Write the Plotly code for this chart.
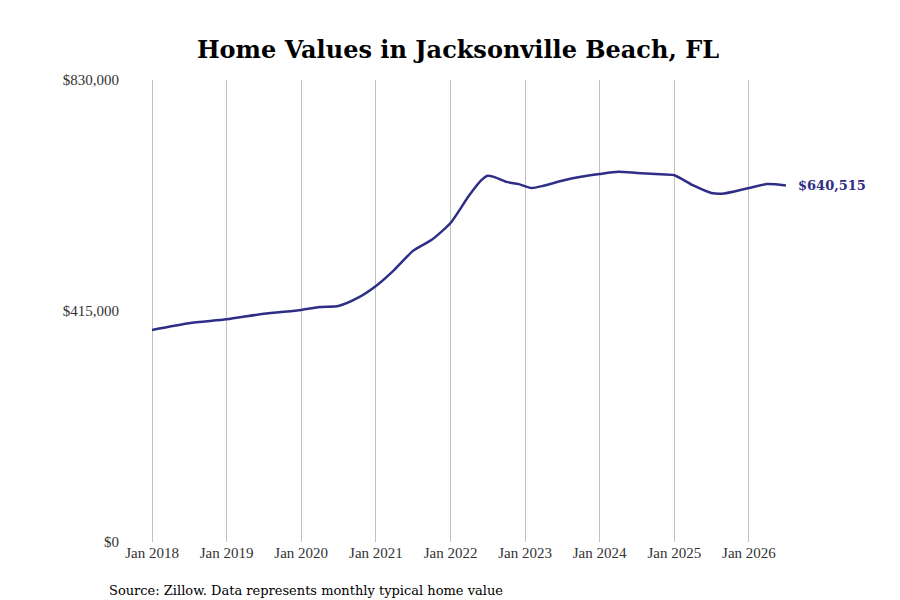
import plotly.graph_objects as go

dates = ["2018-01-01","2018-07-01","2019-01-01","2019-07-01","2020-01-01","2020-04-01","2020-07-01","2020-10-01",
         "2021-01-01","2021-04-01","2021-07-01","2021-10-01","2022-01-01","2022-04-01","2022-06-01","2022-07-01",
         "2022-08-01","2022-10-01","2022-12-01","2023-02-01","2023-04-01","2023-07-01","2023-10-01","2024-01-01",
         "2024-04-01","2024-07-01","2024-10-01","2025-01-01","2025-04-01","2025-07-01","2025-09-01","2026-01-01",
         "2026-04-01","2026-07-01"]
values = [381000,393000,400000,410000,417000,422000,424000,438000,
          460000,489000,523000,543000,573000,622000,650000,658000,
          656000,647000,643000,636000,640000,649000,656000,661000,
          665000,663000,661000,659000,641000,627000,626000,636000,
          643000,640515]
ytick_vals = [0, 415000, 830000]
ytick_text = ["$0", "$415,000", "$830,000"]
xtick_vals = [f"{y}-01-01" for y in range(2018, 2027)]
xtick_text = [f"Jan {y}" for y in range(2018, 2027)]
color = "#2e2e86"

fig = go.Figure(go.Scatter(x=dates, y=values, mode="lines",
                           line=dict(color=color, width=2.5, shape="spline", smoothing=0.6)))
fig.add_annotation(x=dates[-1], y=values[-1], text="<b>$640,515</b>", showarrow=False,
                   xanchor="left", xshift=10, font=dict(family="DejaVu Serif", size=13, color=color))
fig.add_annotation(xref="paper", yref="paper", x=-0.019, y=-0.085, xanchor="left", yanchor="top",
                   text="Source: Zillow. Data represents monthly typical home value", showarrow=False,
                   font=dict(family="DejaVu Serif", size=13, color="#000"))
fig.update_layout(
    width=900, height=600, margin=dict(l=112, r=110, t=72, b=66, autoexpand=False),
    plot_bgcolor="white", paper_bgcolor="white", showlegend=False,
    title=dict(text="<b>Home Values in Jacksonville Beach, FL</b>", x=0.5, y=0.93, xanchor="center",
               yanchor="middle", automargin=False,
               font=dict(family="DejaVu Serif", size=24, color="#000")),
    font=dict(family="Liberation Serif", size=15, color="#333"),
)
fig.update_xaxes(range=["2017-07-28", "2026-08-29"], tickvals=xtick_vals, ticktext=xtick_text,
                 showgrid=True, gridcolor="#c0c0c0", gridwidth=1, zeroline=False, showline=False,
                 ticks="", automargin=False)
fig.update_yaxes(range=[0, 830000], tickvals=ytick_vals, ticktext=ytick_text, showgrid=False,
                 zeroline=False, showline=False, ticks="", automargin=False)
fig.write_html("out.html")
